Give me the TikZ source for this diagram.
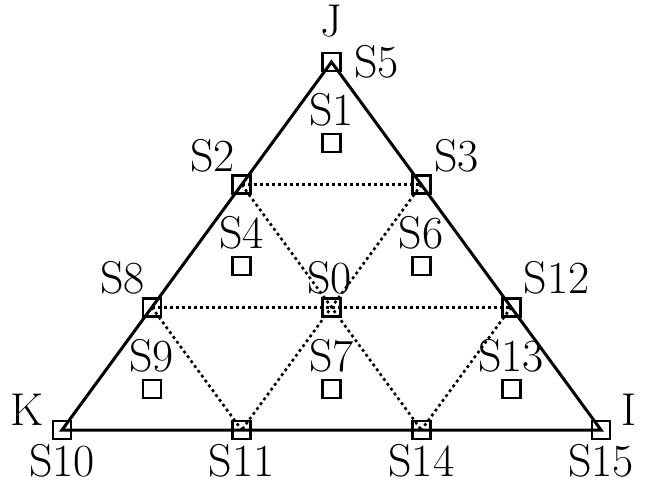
\documentclass[tikz,border=0pt]{standalone}
\usetikzlibrary{positioning}
\tikzstyle{site} = [rectangle, draw, line width=1.3pt, minimum size=9pt, inner sep=0pt]
\tikzstyle{lbl} = [font=\fontsize{23}{27}\selectfont, inner sep=1pt]
\tikzstyle{edge} = [line width=1.5pt]
\tikzstyle{grid} = [line width=1.3pt, dash pattern=on 1.4pt off 1.6pt]
\begin{document}
\begin{tikzpicture}[x=0.5pt, y=-0.5pt]
\useasboundingbox (0,0) rectangle (646,483);
% corner and edge sites
\node (s10) [site] at (62,430) {};
\node (s11) [site] at (241.7,430) {};
\node (s14) [site] at (421.3,430) {};
\node (s15) [site] at (601,430) {};
\node (s8) [site] at (151.8,307.3) {};
\node (s0) [site] at (331.5,307.3) {};
\node (s12) [site] at (511.2,307.3) {};
\node (s2) [site] at (241.7,184.7) {};
\node (s3) [site] at (421.3,184.7) {};
\node (s5) [site] at (331.5,62) {};
% inner sites
\node (s1) [site] at (331.5,143) {};
\node (s4) [site] at (241.7,266) {};
\node (s6) [site] at (421.3,266) {};
\node (s9) [site] at (151.8,389) {};
\node (s7) [site] at (331.5,389) {};
\node (s13) [site] at (511.2,389) {};

\draw [edge] (s10.center) -- (s15.center) -- (s5.center) -- cycle;
\draw [grid] (s2.center) -- (s3.center);
\draw [grid] (s8.center) -- (s12.center);
\draw [grid] (s2.center) -- (s14.center);
\draw [grid] (s3.center) -- (s11.center);
\draw [grid] (s8.center) -- (s11.center);
\draw [grid] (s12.center) -- (s14.center);

% labels
\node (j) [lbl, above=6pt of s5] {J};
\node (k) [lbl, above left=-4pt and 3pt of s10] {K};
\node (i) [lbl, above right=-4pt and 4pt of s15] {I};
\node [lbl, right=5pt of s5] {S5};
\node [lbl, above=2pt of s1] {S1};
\node [lbl, above left=0pt and -3pt of s2] {S2};
\node [lbl, above right=0pt of s3] {S3};
\node [lbl, above=2pt of s4] {S4};
\node [lbl, above=2pt of s6] {S6};
\node [lbl, above left=0pt and -3pt of s8] {S8};
\node [lbl, above=0pt of s0, xshift=-1pt] {S0};
\node [lbl, above right=0pt of s12] {S12};
\node [lbl, above=2pt of s9] {S9};
\node [lbl, above=2pt of s7] {S7};
\node [lbl, above=2pt of s13] {S13};
\node [lbl, below=1pt of s10] {S10};
\node [lbl, below=1pt of s11] {S11};
\node [lbl, below=1pt of s14] {S14};
\node [lbl, below=1pt of s15] {S15};
\end{tikzpicture}
\end{document}
